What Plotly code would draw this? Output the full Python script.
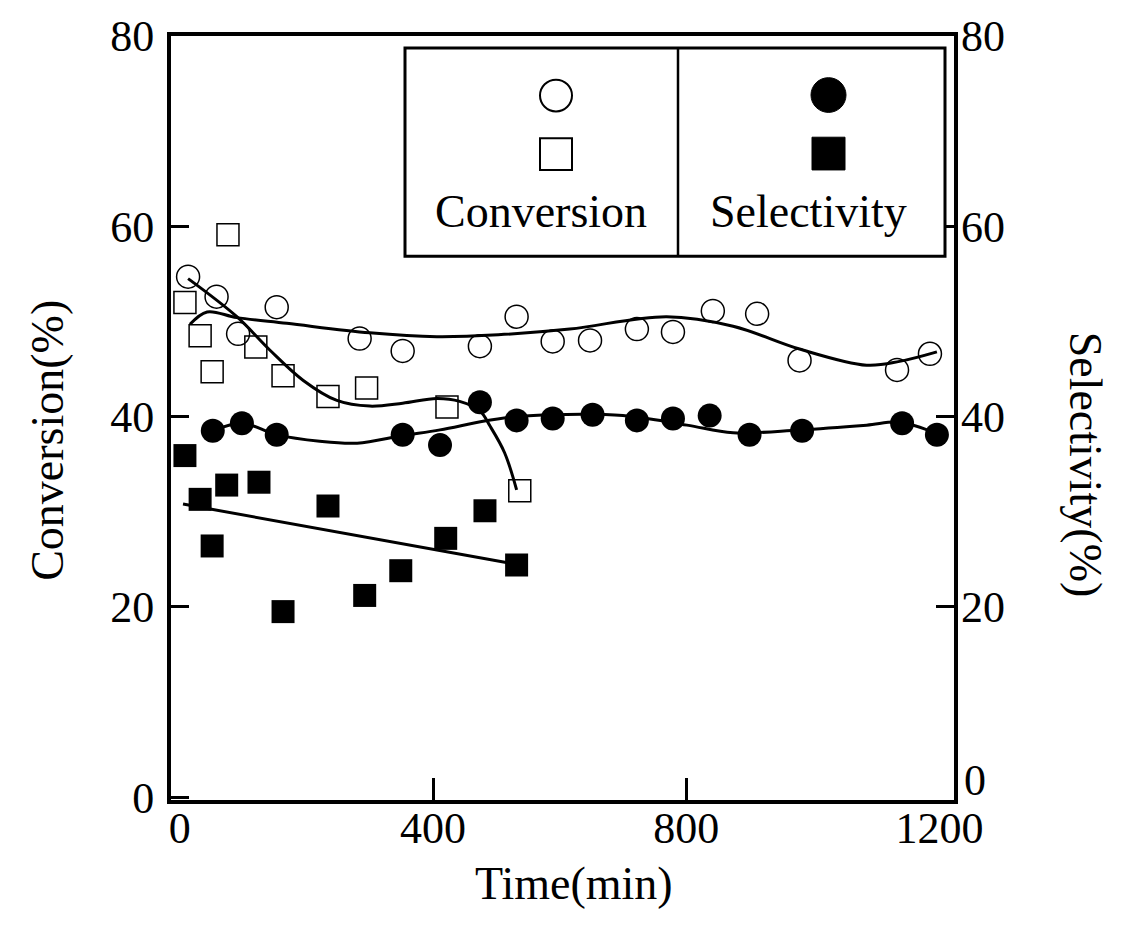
import plotly.graph_objects as go

# ---- measured data (time in min, values in %) ----
# Conversion, run A (open circles)
conv_a_t = [13, 58, 92, 153, 284, 352, 474, 532, 589, 648, 722, 779, 842, 912, 979, 1133, 1185]
conv_a_v = [54.7, 52.6, 48.7, 51.5, 48.2, 46.9, 47.4, 50.5, 47.9, 48.0, 49.2, 48.9, 51.1, 50.8, 45.9, 44.9, 46.6]

# Conversion, run B (open squares)
conv_b_t = [8, 32, 51, 76, 120, 163, 234, 295, 422, 537]
conv_b_v = [52.0, 48.5, 44.7, 59.1, 47.3, 44.3, 42.1, 43.0, 41.0, 32.2]

# Selectivity, run A (filled circles)
sel_a_t = [52, 98, 153, 352, 411, 474, 532, 589, 652, 722, 779, 837, 900, 983, 1141, 1196]
sel_a_v = [38.5, 39.3, 38.1, 38.1, 37.0, 41.5, 39.6, 39.8, 40.2, 39.6, 39.8, 40.1, 38.1, 38.5, 39.3, 38.1]

# Selectivity, run B (filled squares)
sel_b_t = [8, 32, 51, 74, 125, 163, 234, 292, 349, 420, 482, 532]
sel_b_v = [35.9, 31.3, 26.4, 32.8, 33.1, 19.5, 30.6, 21.2, 23.8, 27.2, 30.1, 24.4]

# ---- smoothed trend curves ----
fit_conv_a_t = [16, 43, 90, 169, 300, 406, 503, 616, 769, 874, 979, 1085, 1137, 1196]
fit_conv_a_v = [49.7, 51.0, 50.4, 49.8, 48.8, 48.4, 48.6, 49.2, 50.5, 49.5, 47.1, 45.4, 45.8, 46.8]

fit_conv_b_t = [13, 90, 142, 195, 248, 300, 352, 406, 442, 474, 490, 513, 532]
fit_conv_b_v = [54.5, 50.5, 47.0, 43.8, 41.7, 41.1, 41.4, 41.9, 41.6, 40.6, 39.0, 36.2, 32.3]

fit_sel_a_t = [52, 98, 153, 221, 280, 352, 411, 479, 532, 589, 700, 801, 874, 979, 1085, 1137, 1196]
fit_sel_a_v = [38.5, 39.3, 38.1, 37.4, 37.2, 38.0, 38.6, 39.5, 40.0, 40.2, 40.1, 39.1, 38.3, 38.6, 39.1, 39.4, 38.2]

fit_sel_b_t = [5, 520]
fit_sel_b_v = [30.8, 24.6]

# ---- axis settings ----
x_range = [-14, 1223]
y_range = [-0.3, 80]
x_ticks = [0, 400, 800, 1200]
y_ticks = [0, 20, 40, 60, 80]
y2_ticks = [20, 40, 60, 80]

FONT = "Liberation Serif"
W, H = 1125, 934
ML, MR, MT, MB = 171, 171, 30, 134


def px_x(p):
    return (p - ML) / (W - ML - MR)


def px_y(p):
    return (H - MB - p) / (H - MT - MB)


fig = go.Figure()

line_style = dict(color="black", width=3, shape="spline", smoothing=1.0)
for t, v in [(fit_conv_a_t, fit_conv_a_v), (fit_conv_b_t, fit_conv_b_v),
             (fit_sel_a_t, fit_sel_a_v), (fit_sel_b_t, fit_sel_b_v)]:
    fig.add_trace(go.Scatter(x=t, y=v, mode="lines", line=line_style,
                             hoverinfo="skip", showlegend=False))

fig.add_trace(go.Scatter(x=conv_a_t, y=conv_a_v, mode="markers", name="Conversion",
                         marker=dict(symbol="circle-open", size=23,
                                     color="black", line=dict(width=1.5)),
                         showlegend=False))
fig.add_trace(go.Scatter(x=conv_b_t, y=conv_b_v, mode="markers", name="Conversion",
                         marker=dict(symbol="square-open", size=22,
                                     color="black", line=dict(width=1.5)),
                         showlegend=False))
fig.add_trace(go.Scatter(x=sel_a_t, y=sel_a_v, mode="markers", name="Selectivity",
                         yaxis="y2",
                         marker=dict(symbol="circle", size=24, color="black"),
                         showlegend=False))
fig.add_trace(go.Scatter(x=sel_b_t, y=sel_b_v, mode="markers", name="Selectivity",
                         yaxis="y2",
                         marker=dict(symbol="square", size=23, color="black"),
                         showlegend=False))

# invisible helper trace on the tick-only x axis
fig.add_trace(go.Scatter(x=[None], y=[None], xaxis="x2", showlegend=False))

tick_font = dict(family=FONT, size=44, color="black")

fig.update_layout(
    width=W, height=H, autosize=False,
    margin=dict(l=ML, r=MR, t=MT, b=MB, pad=0),
    paper_bgcolor="white", plot_bgcolor="white",
    font=dict(family=FONT, color="black"),
    xaxis=dict(range=x_range, tickvals=x_ticks, ticks="", showgrid=False,
               zeroline=False, showline=True, mirror=True, linecolor="black",
               linewidth=4, tickfont=tick_font, ticklabelstandoff=-14),
    xaxis2=dict(range=x_range, overlaying="x", side="bottom", tickvals=[400, 800],
                ticks="inside", ticklen=22, tickwidth=3, tickcolor="black",
                showticklabels=False, showgrid=False, zeroline=False, showline=False),
    yaxis=dict(range=y_range, tickvals=y_ticks, ticks="inside", ticklen=18,
               tickwidth=3, tickcolor="black", showgrid=False, zeroline=False,
               showline=True, mirror=True, linecolor="black", linewidth=4,
               tickfont=tick_font, ticklabelstandoff=4),
    yaxis2=dict(range=y_range, tickvals=y2_ticks, overlaying="y", side="right",
                ticks="inside", ticklen=18, tickwidth=3, tickcolor="black",
                showgrid=False, zeroline=False, showline=False,
                tickfont=tick_font, ticklabelstandoff=6),
)

# legend panel
shapes = [
    dict(type="rect", xref="paper", yref="paper", x0=px_x(405), x1=px_x(945),
         y0=px_y(252), y1=px_y(42), line=dict(color="black", width=3),
         fillcolor="white", layer="above"),
    dict(type="line", xref="paper", yref="paper", x0=px_x(678), x1=px_x(678),
         y0=px_y(252), y1=px_y(42), line=dict(color="black", width=2.5)),
    dict(type="circle", xref="paper", yref="paper", x0=px_x(540), x1=px_x(572),
         y0=px_y(106), y1=px_y(74), line=dict(color="black", width=2)),
    dict(type="rect", xref="paper", yref="paper", x0=px_x(540), x1=px_x(572),
         y0=px_y(165), y1=px_y(133), line=dict(color="black", width=2)),
    dict(type="circle", xref="paper", yref="paper", x0=px_x(811), x1=px_x(846),
         y0=px_y(107), y1=px_y(72), line=dict(color="black", width=1),
         fillcolor="black"),
    dict(type="rect", xref="paper", yref="paper", x0=px_x(812), x1=px_x(845),
         y0=px_y(165), y1=px_y(132), line=dict(color="black", width=1),
         fillcolor="black"),
]
fig.update_layout(shapes=shapes)

ann_font = dict(family=FONT, size=46, color="black")
annotations = [
    dict(text="Conversion", x=px_x(541), y=px_y(207)),
    dict(text="Selectivity", x=px_x(808), y=px_y(207)),
    dict(text="Time(min)", x=px_x(574), y=px_y(884)),
    dict(text="Conversion(%)", x=px_x(48), y=px_y(438), textangle=-90),
    dict(text="Selectivity(%)", x=px_x(1085), y=px_y(462), textangle=90),
]
for a in annotations:
    a.update(xref="paper", yref="paper", showarrow=False, font=ann_font,
             xanchor="center", yanchor="middle")
# right-hand zero label, set a little above the corner
annotations.append(dict(text="0", xref="paper", yref="paper", x=px_x(962),
                        y=px_y(780), xanchor="left", yanchor="middle",
                        showarrow=False, font=tick_font))
fig.update_layout(annotations=annotations)

fig.write_html("out.html")
